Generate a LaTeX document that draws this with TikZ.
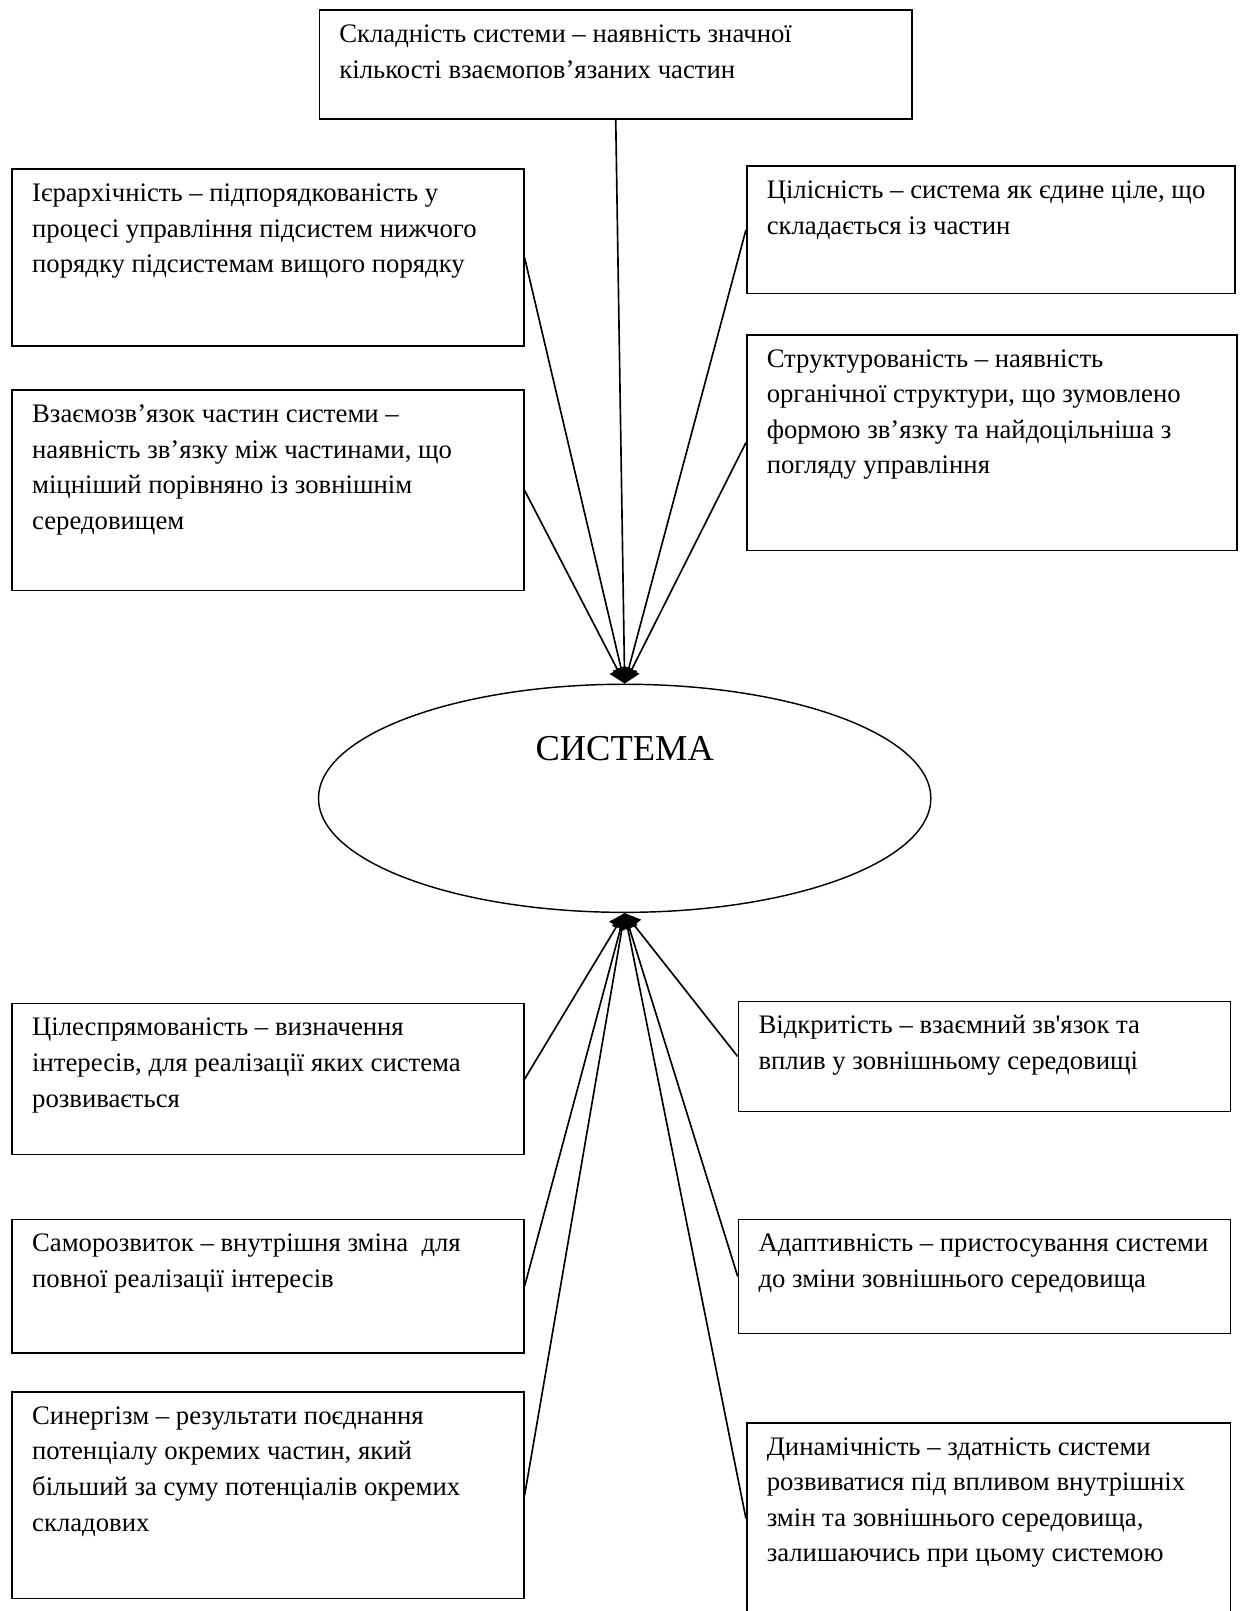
\documentclass[tikz,border=0pt]{standalone}
\usepackage{fontspec}
\newfontfamily\tnr{Liberation Serif}
\usetikzlibrary{shapes.geometric,arrows.meta}

% fixed-size text cell: width, height, lines
\newcommand\cellbox[3]{\parbox[b][#2pt][t]{#1pt}{\raggedright\vspace*{7.3pt}\strut#3}}

\begin{document}
\begin{tikzpicture}[x=1pt,y=-1pt,
  box/.style={draw, line width=1.6pt, anchor=north west, inner xsep=19.5pt, inner ysep=0pt,
    font=\tnr\fontsize{26}{34.6}\selectfont},
  core/.style={draw, ellipse, line width=1.4pt, inner sep=0pt,
    minimum width=596pt, minimum height=222pt},
  title/.style={anchor=base, inner sep=0pt, font=\tnr\fontsize{35.5}{40}\selectfont},
  link/.style={line width=1.6pt, -{Triangle[length=15pt,width=17pt]}}]

\useasboundingbox (0,0) rectangle (1208,1568);

% central ellipse
\node[core] (sys) at (608,777) {};
\node[title] (systxt) at (608,740) {СИСТЕМА};

% upper group
\node[box] (complex) at (310,9) {\cellbox{538}{106}{Складність системи – наявність значної\\кількості взаємопов’язаних частин}};
\node[box] (hier) at (11,164) {\cellbox{459}{172}{Ієрархічність – підпорядкованість у\\процесі управління підсистем нижчого\\порядку підсистемам вищого порядку}};
\node[box] (inter) at (11,379) {\cellbox{459}{195}{Взаємозв’язок частин системи –\\наявність зв’язку між частинами, що\\міцніший порівняно із зовнішнім\\середовищем}};
\node[box] (whole) at (726,161) {\cellbox{436}{124}{Цілісність – система як єдине ціле, що\\складається із частин}};
\node[box] (struct) at (726,325) {\cellbox{438}{210}{Структурованість – наявність\\органічної структури, що зумовлено\\формою зв’язку та найдоцільніша з\\погляду управління}};

% lower group
\node[box] (goal) at (11,976) {\cellbox{459}{147}{Цілеспрямованість – визначення\\інтересів, для реалізації яких система\\розвивається}};
\node[box] (self) at (11,1186) {\cellbox{459}{130}{Саморозвиток – внутрішня зміна \ для\\повної реалізації інтересів}};
\node[box] (syn) at (11,1354) {\cellbox{459}{201}{Синергізм – результати поєднання\\потенціалу окремих частин, який\\більший за суму потенціалів окремих\\складових}};
\node[box] (open) at (718,974) {\cellbox{440}{107}{Відкритість – взаємний зв'язок та\\вплив у зовнішньому середовищі}};
\node[box] (adapt) at (718,1186) {\cellbox{440}{111}{Адаптивність – пристосування системи\\до зміни зовнішнього середовища}};
\node[box] (dyn) at (726,1384) {\cellbox{432}{186}{Динамічність – здатність системи\\розвиватися під впливом внутрішніх\\змін та зовнішнього середовища,\\залишаючись при цьому системою}};

% connectors into the top of the ellipse
\draw[link] (complex.south) -- (sys.north);
\draw[link] (hier.east) -- (sys.north);
\draw[link] (inter.east) -- (sys.north);
\draw[link] (whole.west) -- (sys.north);
\draw[link] (struct.west) -- (sys.north);

% connectors into the bottom of the ellipse
\draw[link] (goal.east) -- (sys.south);
\draw[link] (self.east) -- (sys.south);
\draw[link] (syn.east) -- (sys.south);
\draw[link] (open.west) -- (sys.south);
\draw[link] (adapt.west) -- (sys.south);
\draw[link] (dyn.west) -- (sys.south);
\end{tikzpicture}
\end{document}
